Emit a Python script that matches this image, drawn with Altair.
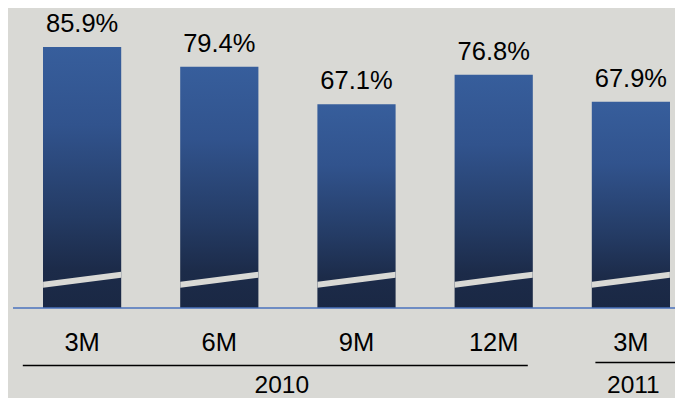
import altair as alt
import pandas as pd

# ---- data ----
categories = ["3M", "6M", "9M", "12M", "3M"]
years = ["2010", "2010", "2010", "2010", "2011"]
values = [85.9, 79.4, 67.1, 76.8, 67.9]
value_labels = ["85.9%", "79.4%", "67.1%", "76.8%", "67.9%"]
group_years = ["2010", "2011"]
group_anchor = ["2010-6M", "2011-3M"]

keys = [f"{y}-{c}" for y, c in zip(years, categories)]
df = pd.DataFrame({"key": keys, "cat": categories, "yr": years,
                   "value": values, "label": value_labels})
gdf = pd.DataFrame({"grp": group_years, "anchor": group_anchor})

BG = "#d9d9d5"
FONT = "Liberation Sans"
LEFT = 35

xscale = alt.Scale(domain=keys, paddingInner=0.43, paddingOuter=0)
yscale = alt.Scale(domain=[0, 98.75])

X = alt.X("key:N", scale=xscale, axis=None)
Y = alt.Y("value:Q", scale=yscale, axis=None)

base = alt.Chart(df)

gradient = alt.Gradient(
    gradient="linear",
    stops=[
        alt.GradientStop(color="#375e9c", offset=0),
        alt.GradientStop(color="#31538d", offset=0.3),
        alt.GradientStop(color="#243b64", offset=0.65),
        alt.GradientStop(color="#1c2b49", offset=0.85),
        alt.GradientStop(color="#1a2844", offset=1),
    ],
    x1=1, x2=1, y1=0, y2=1,
)

bars = base.mark_bar(color=gradient).encode(x=X, y=Y)

# axis-break slash drawn as a custom symbol across each bar
SLASH = "M-1,0.051 L1,-0.205 L1,-0.051 L-1,0.205 Z"
slash = base.transform_calculate(sy="9.32").mark_point(
    shape=SLASH, filled=True, fill=BG, opacity=1, strokeWidth=0, size=78 * 78
).encode(x=X, y=alt.Y("sy:Q", scale=yscale, axis=None))

top_text = base.mark_text(fontSize=25.5, font=FONT, color="black",
                          baseline="alphabetic", dy=-15).encode(
    x=X, y=Y, text="label:N")

cat_text = base.mark_text(fontSize=25.5, font=FONT, color="black",
                          baseline="alphabetic").encode(
    x=X, y=alt.value(342.5), text="cat:N")

baseline = alt.Chart(pd.DataFrame({"v": [0]})).mark_rule(
    color="#4a72bd", strokeWidth=1.5).encode(
    x=alt.value(5 - LEFT), x2=alt.value(675 - LEFT),
    y=alt.Y("v:Q", scale=yscale, axis=None))

g10 = alt.Chart(gdf).transform_filter("datum.grp == '2010'")
g11 = alt.Chart(gdf).transform_filter("datum.grp == '2011'")
HLINE = "M-1,0 L1,0"
GX = alt.X("anchor:N", scale=xscale, axis=None)

line10 = g10.mark_point(shape=HLINE, filled=False, stroke="black", strokeWidth=1.5,
                        opacity=1, size=505 * 505, xOffset=56).encode(
    x=GX, y=alt.value(357.5))
line11 = g11.mark_point(shape=HLINE, filled=False, stroke="black", strokeWidth=1.5,
                        opacity=1, size=80 * 80, xOffset=4.5).encode(
    x=GX, y=alt.value(354.5))

year10 = g10.mark_text(fontSize=24.5, font=FONT, color="black",
                       baseline="alphabetic", dx=62.5).encode(
    x=GX, y=alt.value(385), text="grp:N")
year11 = g11.mark_text(fontSize=24.5, font=FONT, color="black",
                       baseline="alphabetic", dx=2.5).encode(
    x=GX, y=alt.value(385), text="grp:N")

chart = alt.layer(bars, slash, baseline, top_text, cat_text,
                  line10, line11, year10, year11).properties(
    width=627, height=300,
    background=BG,
    padding={"left": LEFT, "top": 0, "right": 5, "bottom": 90},
    autosize=alt.AutoSizeParams(type="none"),
).configure_view(stroke=None)

chart.save("out.html", embed_options={"renderer": "svg", "actions": False})
